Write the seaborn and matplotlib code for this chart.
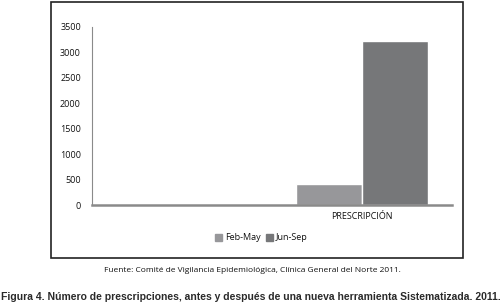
import matplotlib
matplotlib.use("Agg")
import matplotlib.pyplot as plt
import seaborn as sns
import pandas as pd
import numpy as np
from matplotlib.patches import Rectangle

categories = ["", "PRESCRIPCIÓN"]
feb_may = [np.nan, 420]
jun_sep = [np.nan, 3220]
series_names = ["Feb-May", "Jun-Sep"]
colors = ["#97979a", "#767779"]
yticks = [0, 500, 1000, 1500, 2000, 2500, 3000, 3500]

df = pd.DataFrame({
    "cat": categories * 2,
    "serie": [series_names[0]] * 2 + [series_names[1]] * 2,
    "valor": feb_may + jun_sep,
})

sns.set_theme(style="white")
plt.rcParams['font.family'] = ['Open Sans', 'DejaVu Sans']

fig = plt.figure(figsize=(5.02, 3.07), dpi=100)
ax = fig.add_axes([0.1833, 0.3322, 0.717, 0.580])

sns.barplot(data=df, x="cat", y="valor", hue="serie", palette=colors,
            width=0.73, ax=ax, legend=False, saturation=1)

ax.set_ylim(0, 3500)
ax.set_yticks(yticks)
ax.set_yticklabels([str(t) for t in yticks], fontsize=6.5, color="#111111")
ax.tick_params(axis="x", labelsize=6.5, colors="#111111", length=0, pad=5)
ax.tick_params(axis="y", length=0, pad=8)
ax.set_xlabel("")
ax.set_ylabel("")
for s in ["top", "right"]:
    ax.spines[s].set_visible(False)
ax.spines["left"].set_color("#8a8a8a")
ax.spines["left"].set_linewidth(0.8)
ax.spines["bottom"].set_color("#8a8a8a")
ax.spines["bottom"].set_linewidth(1.8)

handles = [Rectangle((0, 0), 1, 1, color=c) for c in colors]
fig.legend(handles, series_names, loc="center", bbox_to_anchor=(0.52, 0.225),
           ncol=2, frameon=False, fontsize=6.5, handlelength=0.8, handleheight=0.8,
           handletextpad=0.3, columnspacing=0.6, labelcolor="#111111")

fig.patches.append(Rectangle((0.1016, 0.1596), 0.8207, 0.8339, transform=fig.transFigure,
                             fill=False, edgecolor="#222222", linewidth=1.2))

fig.text(0.502, 0.12, "Fuente: Comité de Vigilancia Epidemiológica, Clínica General del Norte 2011.",
         ha="center", va="center", fontsize=6, color="#111111")
fig.text(0.5, 0.033, "Figura 4. Número de prescripciones, antes y después de una nueva herramienta Sistematizada. 2011.",
         ha="center", va="center", fontsize=7.5, fontweight="bold", color="#2a2a2a",
         family=["Liberation Sans", "DejaVu Sans"])

fig.savefig("out.png", dpi=100)
